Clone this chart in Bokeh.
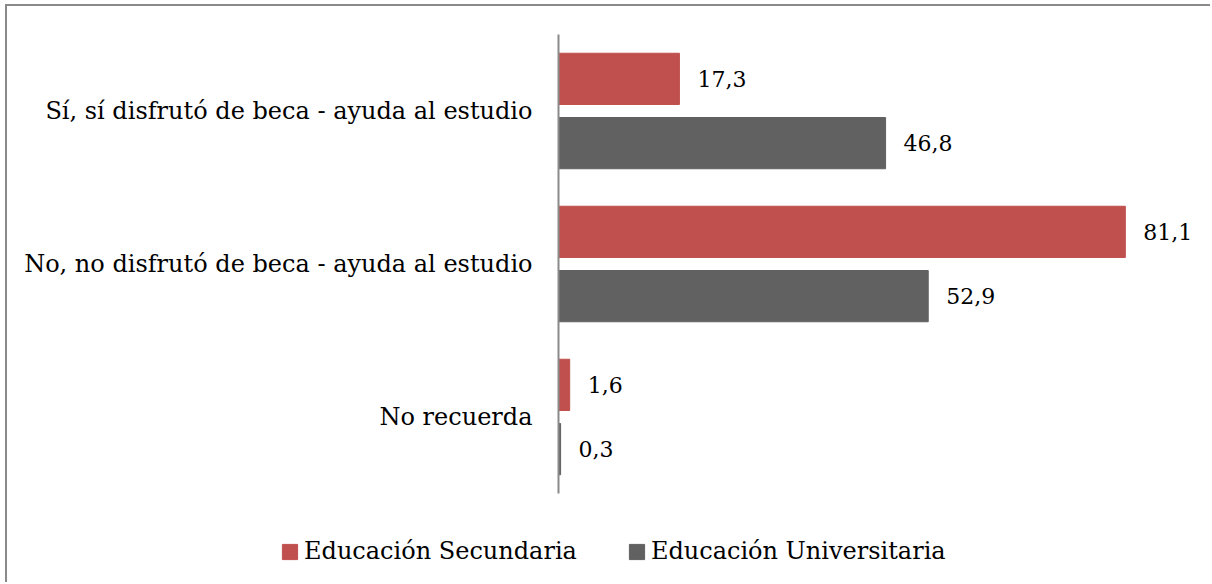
from bokeh.plotting import figure
from bokeh.layouts import column
from bokeh.models import ColumnDataSource, FactorRange, Range1d, Legend, LegendItem
from bokeh.transform import dodge
from bokeh.core.properties import value
from bokeh.embed import file_html
from bokeh.resources import INLINE

categories = ["Sí, sí disfrutó de beca - ayuda al estudio",
              "No, no disfrutó de beca - ayuda al estudio",
              "No recuerda"]
secundaria = [17.3, 81.1, 1.6]
universitaria = [46.8, 52.9, 0.3]
series_names = ["Educación Secundaria", "Educación Universitaria"]
colors = ["#C0504D", "#616161"]

def fmt(v):
    return f"{v:.1f}".replace(".", ",")

src = ColumnDataSource(dict(
    cat=categories,
    sec=secundaria,
    uni=universitaria,
    sec_lbl=[fmt(v) for v in secundaria],
    uni_lbl=[fmt(v) for v in universitaria],
))

FONT = "DejaVu Serif"

p = figure(width=1203, height=489,
           y_range=FactorRange(factors=list(reversed(categories)), range_padding=0),
           x_range=Range1d(0, 92),
           output_backend="svg", toolbar_location=None,
           min_border_left=551, min_border_right=9,
           min_border_top=28, min_border_bottom=2)
p.frame_align = False

p.hbar(y=dodge("cat", 0.21, range=p.y_range), right="sec", left=0, height=0.335,
       source=src, fill_color=colors[0], line_color=colors[0])
p.hbar(y=dodge("cat", -0.21, range=p.y_range), right="uni", left=0, height=0.335,
       source=src, fill_color=colors[1], line_color=colors[1])

p.text(x="sec", y=dodge("cat", 0.21, range=p.y_range), text="sec_lbl", source=src,
       x_offset=18, text_baseline="middle", text_align="left",
       text_font=value(FONT), text_font_size="22px", text_color="#000000")
p.text(x="uni", y=dodge("cat", -0.21, range=p.y_range), text="uni_lbl", source=src,
       x_offset=18, text_baseline="middle", text_align="left",
       text_font=value(FONT), text_font_size="22px", text_color="#000000")

p.xaxis.visible = False
p.xgrid.grid_line_color = None
p.ygrid.grid_line_color = None
p.outline_line_color = None

ya = p.yaxis[0]
ya.axis_line_color = "#8a8a8a"
ya.axis_line_width = 2
ya.major_tick_line_color = None
ya.minor_tick_line_color = None
ya.major_tick_out = 0
ya.major_tick_in = 0
ya.major_label_standoff = 26
ya.major_label_text_font = FONT
ya.major_label_text_font_size = "24px"
ya.major_label_text_color = "#000000"

# legend strip below the chart
lf = figure(width=1203, height=87, x_range=Range1d(0, 1), y_range=Range1d(0, 1),
            x_axis_type=None, y_axis_type=None,
            output_backend="svg", toolbar_location=None,
            min_border=0)
lf.frame_align = False
lf.outline_line_color = None
lf.xgrid.grid_line_color = None
lf.ygrid.grid_line_color = None
# zero-size proxy glyphs, used only to draw the legend swatches
proxies = [lf.hbar(y=[0.5], right=[0], left=[0], height=[0], fill_color=c, line_color=c)
           for c in colors]

legend = Legend(items=[LegendItem(label=n, renderers=[r]) for n, r in zip(series_names, proxies)],
                orientation="horizontal", location=(273, 17),
                padding=0, margin=0, spacing=50,
                glyph_width=19, glyph_height=19, label_standoff=5,
                label_text_font=FONT, label_text_font_size="24px",
                label_text_color="#000000",
                background_fill_alpha=0, border_line_alpha=0)
lf.add_layout(legend, "center")

layout = column(p, lf, spacing=0)
layout.styles = {"border-top": "2px solid #8a8a8a", "border-left": "2px solid #8a8a8a",
                 "margin-left": "5px", "margin-top": "4px"}

open("out.html", "w").write(file_html(layout, INLINE))
